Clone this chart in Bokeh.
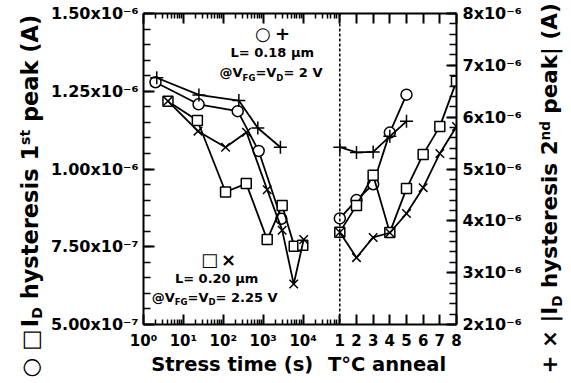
from bokeh.plotting import figure
from bokeh.layouts import row, column
from bokeh.models import (Range1d, LogScale, LinearAxis, LogAxis, FixedTicker,
                          CustomJSTickFormatter, Span, Label)
from bokeh.embed import file_html
from bokeh.resources import INLINE

# ---------------- data ----------------
stress_circle_t = [2.0, 24.0, 230.0, 770.0, 2850.0]
stress_circle_i1 = [1.279e-6, 1.208e-6, 1.186e-6, 1.058e-6, 8.40e-7]
stress_plus_t = [2.15, 24.5, 245.0, 733.0, 2700.0]
stress_plus_i2 = [6.76e-6, 6.43e-6, 6.32e-6, 5.79e-6, 5.42e-6]
stress_square_t = [4.1, 22.4, 114.0, 376.0, 1259.0, 2985.0, 6000.0, 9800.0]
stress_square_i1 = [1.218e-6, 1.156e-6, 9.26e-7, 9.53e-7, 7.73e-7, 8.83e-7, 7.52e-7, 7.55e-7]
stress_x_t = [4.1, 23.2, 114.0, 382.0, 1259.0, 2985.0, 5820.0, 10350.0]
stress_x_i2 = [6.31e-6, 5.73e-6, 5.42e-6, 5.71e-6, 4.60e-6, 3.82e-6, 2.78e-6, 3.64e-6]

anneal_circle_step = [1, 2, 3, 4, 5]
anneal_circle_i1 = [8.41e-7, 9.0e-7, 9.51e-7, 1.117e-6, 1.239e-6]
anneal_square_step = [1, 2, 3, 4, 5, 6, 7, 8]
anneal_square_i1 = [7.97e-7, 8.83e-7, 9.80e-7, 7.96e-7, 9.37e-7, 1.047e-6, 1.137e-6, 1.2825e-6]
anneal_plus_step = [1, 2, 3, 4, 5]
anneal_plus_i2 = [5.42e-6, 5.32e-6, 5.33e-6, 5.63e-6, 5.92e-6]
anneal_x_step = [1, 2, 3, 4, 5, 6, 7, 8]
anneal_x_i2 = [3.78e-6, 3.29e-6, 3.68e-6, 3.77e-6, 4.14e-6, 4.64e-6, 5.30e-6, 5.82e-6]

left_ticks = [5e-7, 7.5e-7, 1e-6, 1.25e-6, 1.5e-6]
left_labels = ["5.00x10\u207b\u2077", "7.50x10\u207b\u2077", "1.00x10\u207b\u2076",
               "1.25x10\u207b\u2076", "1.50x10\u207b\u2076"]
right_ticks = [2e-6, 3e-6, 4e-6, 5e-6, 6e-6, 7e-6, 8e-6]
right_labels = ["2x10\u207b\u2076", "3x10\u207b\u2076", "4x10\u207b\u2076", "5x10\u207b\u2076",
                "6x10\u207b\u2076", "7x10\u207b\u2076", "8x10\u207b\u2076"]
log_ticks = [1, 10, 100, 1000, 10000]
log_labels = ["10\u2070", "10\u00b9", "10\u00b2", "10\u00b3", "10\u2074"]
anneal_ticks = [1, 2, 3, 4, 5, 6, 7, 8]
anneal_labels = ["1", "2", "3", "4", "5", "6", "7", "8"]

# ---------------- layout of the broken axis ----------------
L1 = 4.92           # decades shown in the stress part
DPU = 0.4178        # decades per anneal step (same pixel scale)
LOG_END = 10 ** (L1 + 7 * DPU)
ANN_START = 1 - L1 / DPU

FONT = "DejaVu Sans"

p = figure(width=480, height=352, output_backend="svg", toolbar_location=None,
           x_range=Range1d(ANN_START, 8), y_range=Range1d(5e-7, 1.5e-6),
           x_axis_type=None, y_axis_type=None,
           min_border_left=98, min_border_right=69, min_border_top=13,
           min_border_bottom=28)
p.frame_align = False
p.extra_x_ranges = {"log": Range1d(1, LOG_END)}
p.extra_x_scales = {"log": LogScale()}
p.extra_y_ranges = {"right": Range1d(2e-6, 8e-6)}
p.outline_line_color = None


def style_axis(ax, tin, tmin, size="16px", standoff=5):
    ax.axis_line_width = 2
    ax.axis_line_color = "black"
    ax.major_tick_in = tin
    ax.major_tick_out = 0
    ax.minor_tick_in = tmin
    ax.minor_tick_out = 0
    ax.major_tick_line_width = 2
    ax.minor_tick_line_width = 1.5
    ax.major_tick_line_color = "black"
    ax.minor_tick_line_color = "black"
    ax.major_label_text_font = FONT
    ax.major_label_text_font_style = "bold"
    ax.major_label_text_font_size = size
    ax.major_label_text_color = "black"
    ax.major_label_standoff = standoff


lin_code = """
let best = 0, bd = Infinity;
for (let i = 0; i < vals.length; i++) {
  const d = Math.abs(vals[i] - tick);
  if (d < bd) { bd = d; best = i; }
}
return labels[best];
"""
log_code = """
let best = 0, bd = Infinity;
for (let i = 0; i < vals.length; i++) {
  const d = Math.abs(Math.log10(vals[i]) - Math.log10(tick));
  if (d < bd) { bd = d; best = i; }
}
return labels[best];
"""

# left axis
left_minor = [5e-7 + k * 5e-8 for k in range(21)]
ax_l = LinearAxis(ticker=FixedTicker(ticks=left_ticks, minor_ticks=left_minor),
                  formatter=CustomJSTickFormatter(args=dict(vals=left_ticks, labels=left_labels),
                                                  code=lin_code))
style_axis(ax_l, 11, 7, "16px", 5)
p.add_layout(ax_l, "left")

# right axis
right_minor = [2e-6 + k * 2e-7 for k in range(31)]
ax_r = LinearAxis(y_range_name="right",
                  ticker=FixedTicker(ticks=right_ticks, minor_ticks=right_minor),
                  formatter=CustomJSTickFormatter(args=dict(vals=right_ticks, labels=right_labels),
                                                  code=lin_code))
style_axis(ax_r, 10, 7, "16px", 6)
p.add_layout(ax_r, "right")

# bottom / top axis (log stress part + anneal part share one axis)
bx_ticks = log_ticks + [10 ** (L1 + (a - 1) * DPU) for a in anneal_ticks]
bx_labels = log_labels + anneal_labels
bx_minor = [m * 10 ** k for k in range(5) for m in range(2, 10) if m * 10 ** k < 10 ** L1]

ax_b = LogAxis(x_range_name="log",
               ticker=FixedTicker(ticks=bx_ticks, minor_ticks=bx_minor),
               formatter=CustomJSTickFormatter(args=dict(vals=bx_ticks, labels=bx_labels),
                                               code=log_code))
style_axis(ax_b, 10, 5, "15px", 7)
p.add_layout(ax_b, "below")

ax_t = LogAxis(x_range_name="log",
               ticker=FixedTicker(ticks=bx_ticks, minor_ticks=bx_minor),
               formatter=CustomJSTickFormatter(code="return ''"))
style_axis(ax_t, 10, 5, "1px", 0)
p.add_layout(ax_t, "above")

# dashed separator at anneal step 1
p.add_layout(Span(location=1, dimension="height", line_color="black",
                  line_width=1.5, line_dash="3 2"))


def series(x, y, xr, yr, marker, size):
    p.line(x, y, x_range_name=xr, y_range_name=yr, line_color="black", line_width=1.8)
    p.scatter(x, y, x_range_name=xr, y_range_name=yr, marker=marker, size=size,
              line_color="black", fill_color="white", line_width=1.5)


series(stress_circle_t, stress_circle_i1, "log", "default", "circle", 11)
series(stress_square_t, stress_square_i1, "log", "default", "square", 10)
series(stress_plus_t, stress_plus_i2, "log", "right", "cross", 13)
series(stress_x_t, stress_x_i2, "log", "right", "x", 12)
series(anneal_circle_step, anneal_circle_i1, "default", "default", "circle", 11)
series(anneal_square_step, anneal_square_i1, "default", "default", "square", 10)
series(anneal_plus_step, anneal_plus_i2, "default", "right", "cross", 13)
series(anneal_x_step, anneal_x_i2, "default", "right", "x", 12)


# ---------------- helper canvases for the outer titles ----------------
def blank(w, h, bl=0, br=0):
    f = figure(width=w, height=h, output_backend="svg", toolbar_location=None,
               x_range=Range1d(0, w - bl - br), y_range=Range1d(0, h),
               x_axis_type=None, y_axis_type=None, min_border=0,
               min_border_left=bl, min_border_right=br, min_border_top=0,
               min_border_bottom=0)
    f.frame_align = False
    f.outline_line_color = None
    return f


pl = blank(45, 383)
pr = blank(46, 383)
pb = blank(480, 31, 98, 69)

# ---------------- texts (rich runs with sub/superscripts) ----------------
W = {" ": .348, "(": .457, ")": .457, ".": .381, "A": .774, "C": .734, "D": .830,
     "F": .683, "G": .821, "I": .372, "L": .637, "S": .720, "T": .682, "V": .774,
     "a": .675, "c": .593, "d": .716, "e": .678, "h": .712, "i": .343, "k": .665,
     "l": .343, "m": 1.042, "n": .712, "p": .716, "r": .493, "s": .595, "t": .478,
     "y": .652, "x": .643, "=": .838, "+": .838, "\u00d7": .838, "@": 1.0, "|": .365,
     "\u00b5": .721, "\u00b0": .5, "\u25cb": .77, "\u25a1": .77}
for dgt in "0123456789":
    W[dgt] = .696
MID = 0.35   # centre of the text box above the baseline, in em


def tw(s, size):
    return sum(W.get(c, .65) for c in s) * size


def run(fig, pieces, x, y, align="left", angle=0.0):
    """pieces: (text, size, baseline shift, bold); x/y give the baseline."""
    total = sum(tw(pc[0], pc[1]) for pc in pieces)
    if angle == 0:
        pos = x - total / 2 if align == "center" else x
    else:
        pos = y
    for t, s, d, b in pieces:
        lead = len(t) - len(t.lstrip(" "))
        start = pos + lead * W[" "] * s
        txt = t.strip(" ")
        up = d + MID * s
        if angle == 0:
            lx, ly = start, y + up
        else:
            lx, ly = x - up, start
        fig.add_layout(Label(x=lx, y=ly, x_units="screen", y_units="screen", text=txt,
                             angle=angle, text_font=FONT,
                             text_font_style="bold" if b else "normal",
                             text_font_size="%gpx" % s, text_align="left",
                             text_baseline="middle", text_color="black"))
        pos += tw(t, s)


HALF_PI = 1.5707963267948966
# left axis title
run(pl, [("\u25cb \u25a1 ", 22.5, 0, False), ("I", 22.5, 0, True), ("D", 14, -4, True),
         (" hysteresis 1", 22.5, 0, True), ("st", 14, 8, True), (" peak (A)", 22.5, 0, True)],
    37, 6, angle=HALF_PI)
# right axis title
run(pr, [("+ \u00d7 |I", 21.5, 0, True), ("D", 13.5, -4, True), (" hysteresis 2", 21.5, 0, True),
         ("nd", 13.5, 8, True), (" peak| (A)", 21.5, 0, True)],
    32, 10, angle=HALF_PI)
# bottom titles (offsets from the left edge of the plotting area)
run(pb, [("Stress time (s)", 19.5, 0, True)], 88.7, 12, align="center")
run(pb, [("T\u00b0C anneal", 19.5, 0, True)], 243.5, 12, align="center")

# in-plot annotations (screen offsets from the frame's lower-left corner)
run(p, [("\u25cb ", 18, 0, False), ("+", 18, 0, True)], 129, 284.5, align="center")
run(p, [("L= 0.18 \u00b5m", 13, 0, True)], 128.7, 267.3, align="center")
run(p, [("@V", 13, 0, True), ("FG", 8.5, -3, True), ("=V", 13, 0, True), ("D", 8.5, -3, True),
        ("= 2 V", 13, 0, True)], 127.5, 247, align="center")
run(p, [("\u25a1 ", 18, 0, False), ("\u00d7", 18, 0, True)], 75, 58.5, align="center")
run(p, [("L= 0.20 \u00b5m", 13, 0, True)], 73, 41, align="center")
run(p, [("@V", 13, 0, True), ("FG", 8.5, -3, True), ("=V", 13, 0, True), ("D", 8.5, -3, True),
        ("= 2.25 V", 13, 0, True)], 71.2, 22.5, align="center")

layout = row(pl, column(p, pb), pr)
open("out.html", "w").write(file_html(layout, INLINE))
